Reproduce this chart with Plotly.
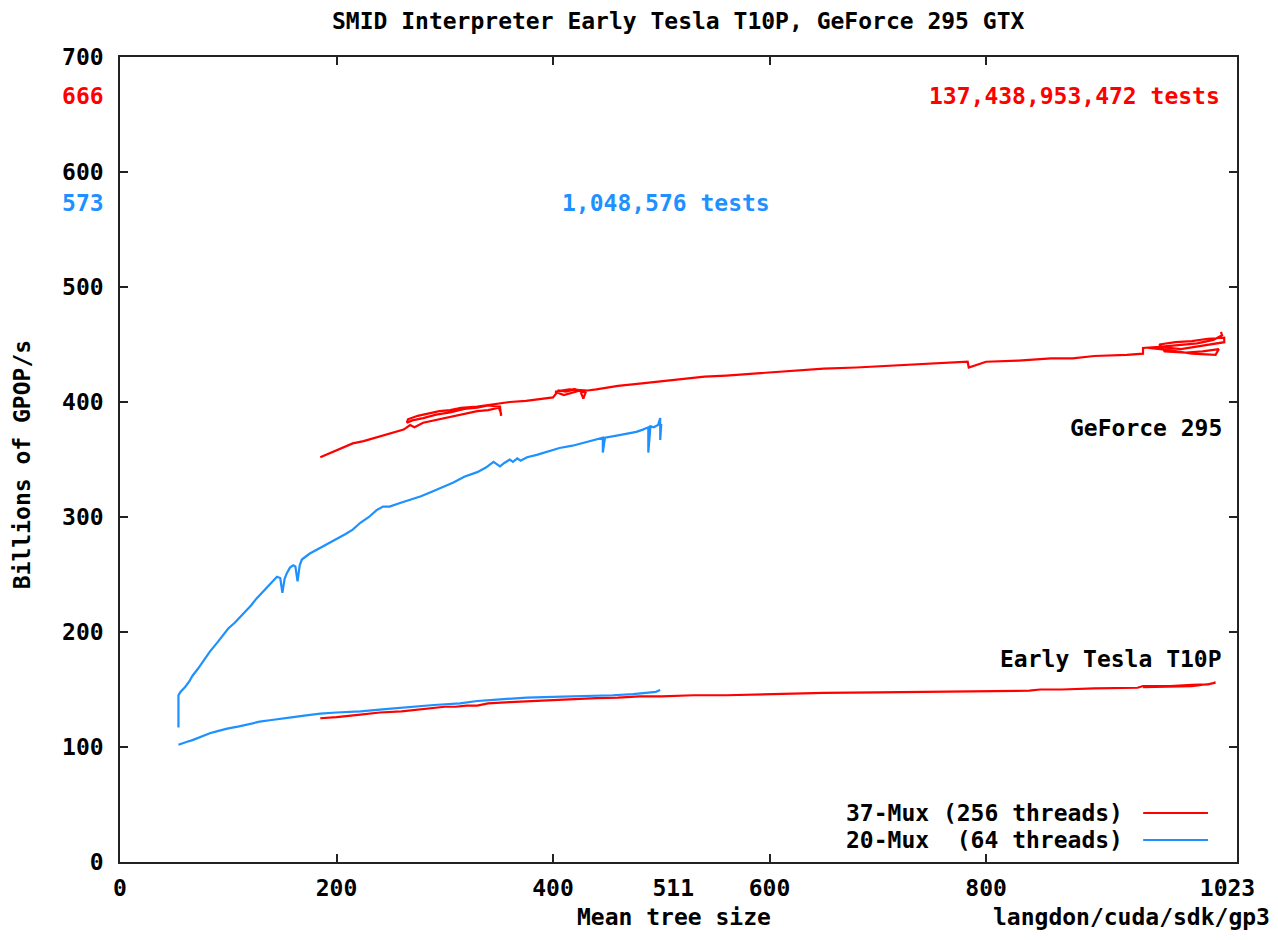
import plotly.graph_objects as go

# ---------------- data ----------------
# 37-Mux (256 threads) on GeForce 295
gf37_x = [185, 195, 205, 215, 225, 240, 255, 262, 268, 272, 280, 290, 300, 310, 320, 330, 340, 350, 352, 352,
          351, 340, 330, 318, 305, 292, 280, 270, 265, 266, 275, 285, 295, 305, 315, 330, 345, 352, 360, 375,
          390, 400, 405, 412, 420, 430, 428, 425, 410, 402, 415, 432, 440, 460, 480, 500, 520, 540, 560, 590,
          620, 650, 680, 720, 760, 783, 784, 800, 830, 860, 880, 900, 930, 945, 945, 960, 980, 1000, 1010, 1020,
          1020, 1005, 990, 975, 960, 965, 985, 1000, 1015, 1012, 990, 970, 950, 970, 995, 1010, 1018, 1017]
gf37_y = [352, 356, 360, 364, 366, 370, 374, 376, 380, 378, 382, 384, 386, 388, 390, 392, 393, 395, 390, 388,
          396, 397, 395, 394, 391, 389, 386, 384, 382, 385, 388, 390, 392, 393, 395, 396, 398, 399, 400, 401,
          403, 404, 410, 409, 411, 408, 403, 410, 406, 409, 411, 410, 411, 414, 416, 418, 420, 422, 423, 425,
          427, 429, 430, 432, 434, 435, 430, 435, 436, 438, 438, 440, 441, 442, 447, 448, 446, 449, 450, 452,
          456, 455, 453, 452, 450, 444, 443, 444, 446, 441, 442, 445, 447, 449, 451, 454, 458, 461]

# 37-Mux (256 threads) on Early Tesla T10P
t37_x = [185, 200, 220, 240, 260, 280, 300, 310, 320, 330, 340, 360, 380, 400, 420, 440, 460, 480, 500, 530,
         560, 600, 650, 700, 750, 800, 840, 850, 870, 900, 940, 945, 970, 990, 1005, 1012, 1008, 990, 960, 945]
t37_y = [125, 126, 128, 130, 131, 133, 135, 135, 136, 136, 138, 139, 140, 141, 142, 142.5, 143, 144, 144, 145,
         145, 146, 147, 147.5, 148, 149, 149, 150, 150, 151, 151.5, 153, 153, 154, 154.5, 156, 155, 153, 152.5, 152]

# 20-Mux (64 threads) on GeForce 295
gf20_x = [54, 54, 56, 60, 64, 67, 72, 78, 83, 90, 95, 100, 106, 111, 116, 121, 126, 131, 136, 141,
          145, 148, 150, 152, 154, 157, 160, 162, 164, 166, 168, 175, 183, 191, 200, 208, 215, 222, 230, 237,
          243, 249, 258, 268, 278, 288, 298, 308, 318, 330, 338, 345, 348, 351, 355, 360, 363, 367, 370, 376,
          385, 395, 406, 418, 430, 440, 446, 446, 448, 460, 470, 477, 483, 488, 488, 490, 493, 497, 499, 499, 500]
gf20_y = [117, 145, 148, 152, 157, 162, 168, 176, 183, 191, 197, 203, 208, 213, 218, 223, 229, 234, 239, 244,
          248, 247, 234, 246, 251, 256, 258, 257, 244, 258, 263, 268, 272, 276, 281, 285, 289, 295, 300, 306,
          309, 309, 312, 315, 318, 322, 326, 330, 335, 339, 343, 348, 346, 344, 347, 350, 348, 351, 349, 352,
          354, 357, 360, 362, 365, 367, 369, 356, 369, 371, 373, 374, 376, 378, 356, 379, 378, 380, 386, 367, 381]

# 20-Mux (64 threads) on Early Tesla T10P
t20_x = [54, 58, 62, 67, 75, 83, 91, 99, 110, 120, 129, 140, 150, 160, 172, 185, 200, 222, 245, 268,
         290, 314, 330, 345, 360, 376, 400, 420, 437, 455, 474, 485, 495, 499]
t20_y = [102, 103, 104.5, 106, 109, 112, 114, 116, 118, 120, 122, 123.5, 125, 126, 127.5, 129, 130, 131, 133, 135,
         136.5, 138, 140, 141, 142, 143, 143.5, 144, 144.5, 145, 146, 147, 148, 149.5]

x_ticks = [0, 200, 400, 511, 600, 800, 1023]
x_marks = [200, 400, 600, 800]
y_ticks = [0, 100, 200, 300, 400, 500, 600, 700]
y_extra = [666, 573]
series_names = ["37-Mux (256 threads)", "20-Mux\u00a0\u00a0(64 threads)"]

RED = "#ff0000"
BLUE = "#1e90ff"
FONT = "DejaVu Sans Mono"
FS = 23
X_MAX = 1031.8

fig = go.Figure()
for xs, ys, c in [(gf37_x, gf37_y, RED), (t37_x, t37_y, RED), (gf20_x, gf20_y, BLUE), (t20_x, t20_y, BLUE)]:
    fig.add_trace(go.Scatter(x=xs, y=ys, mode="lines", line=dict(color=c, width=2.2),
                             showlegend=False, hoverinfo="skip"))
# empty trace to carry the tick-mark overlay axes
fig.add_trace(go.Scatter(x=[], y=[], xaxis="x2", yaxis="y2", showlegend=False))

ytext = [str(v) for v in y_ticks] + [
    f"<span style='color:{RED}'>{y_extra[0]}</span>",
    f"<span style='color:{BLUE}'>{y_extra[1]}</span>"]

axis_line = dict(showline=True, linecolor="#222", linewidth=1.5, showgrid=False, zeroline=False)

fig.update_layout(
    width=1270, height=932,
    margin=dict(l=112, r=41, t=49, b=78),
    paper_bgcolor="white", plot_bgcolor="white",
    font=dict(family=FONT, size=FS, color="black", weight="bold"),
    showlegend=False,
    xaxis=dict(range=[0, X_MAX], tickvals=x_ticks, ticktext=[str(v) for v in x_ticks],
               ticks="", mirror=True, ticklabelstandoff=5, **axis_line),
    yaxis=dict(range=[0, 700], tickvals=y_ticks + y_extra, ticktext=ytext,
               ticks="", mirror=True, ticklabelstandoff=10, **axis_line),
    xaxis2=dict(range=[0, X_MAX], tickvals=x_marks, ticks="inside", ticklen=8, tickwidth=1.5, tickcolor="#222",
                showticklabels=False, overlaying="x", anchor="y2", mirror="ticks", **axis_line),
    yaxis2=dict(range=[0, 700], tickvals=y_ticks, ticks="inside", ticklen=8, tickwidth=1.5, tickcolor="#222",
                showticklabels=False, overlaying="y", anchor="x2", mirror="ticks", **axis_line),
)

ann = []
ann.append(dict(text="SMID Interpreter Early Tesla T10P, GeForce 295 GTX", xref="paper", yref="paper",
                x=0.5, y=1, yshift=36, xanchor="center", yanchor="middle", showarrow=False))
ann.append(dict(text="Mean tree size", xref="paper", yref="paper", x=0.496, y=0, yshift=-55,
                xanchor="center", yanchor="middle", showarrow=False))
ann.append(dict(text="langdon/cuda/sdk/gp3", xref="paper", yref="paper", x=1.0313, y=0, yshift=-55,
                xanchor="right", yanchor="middle", showarrow=False))
ann.append(dict(text="Billions of GPOP/s", xref="paper", yref="paper", x=-0.0877, y=0.493, textangle=-90,
                xanchor="center", yanchor="middle", showarrow=False))
ann.append(dict(text="137,438,953,472 tests", x=1018, y=666, xanchor="right", yanchor="middle",
                showarrow=False, font=dict(color=RED)))
ann.append(dict(text="1,048,576 tests", x=504, y=573, xanchor="center", yanchor="middle",
                showarrow=False, font=dict(color=BLUE)))
ann.append(dict(text="GeForce 295", x=1020, y=377, xanchor="right", yanchor="middle", showarrow=False))
ann.append(dict(text="Early Tesla T10P", x=1020, y=176.5, xanchor="right", yanchor="middle", showarrow=False))
# custom gnuplot-style key
key_y = [0.0609, 0.0273]
for name, c, ky in zip(series_names, [RED, BLUE], key_y):
    ann.append(dict(text=name, xref="paper", yref="paper", x=0.8997, y=ky, xanchor="right", yanchor="middle",
                    showarrow=False))
    fig.add_shape(type="line", xref="paper", yref="paper", x0=0.916, x1=0.974, y0=ky, y1=ky,
                  line=dict(color=c, width=2))
fig.update_layout(annotations=ann)

fig.write_html("out.html")
